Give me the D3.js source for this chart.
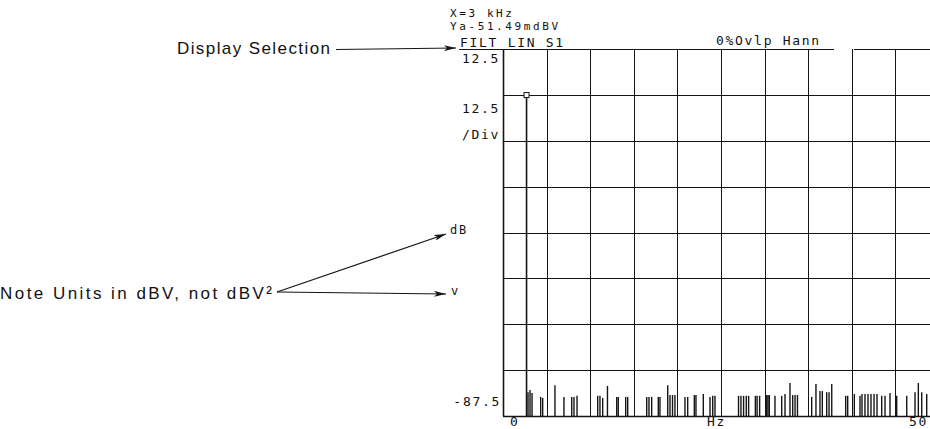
<!DOCTYPE html>
<html>
<head>
<meta charset="utf-8">
<script src="https://cdn.jsdelivr.net/npm/d3@7"></script>
<style>
  body { margin: 0; background: #fff; }
  svg { display: block; }
  .plot-text { font-family: "DejaVu Sans Mono", monospace; font-size: 13px; letter-spacing: 1.7px; fill: #111; }
  .note-text { font-family: "Liberation Sans", Arial, sans-serif; font-size: 17px; fill: #111; }
</style>
</head>
<body>
<div id="chart"></div>
<script>
// frequency axis (Hz) and level axis (dBV)
const freqDomain = [0, 50];
const levelDomain = [-87.5, 12.5];
const freqGrid = [0, 5, 10, 15, 20, 25, 30, 35, 40, 45, 50];
const levelGrid = [12.5, 0, -12.5, -25, -37.5, -50, -62.5, -75, -87.5];

// x axis labels: start, unit, stop
const xLabels = ["0", "Hz", "50"];
const yTopLabel = "12.5";
const yBottomLabel = "-87.5";
const scaleLabels = ["12.5", "/Div"];
const unitLabels = ["dB", "v"];

// header readouts
const markerLines = ["X=3 kHz", "Ya-51.49mdBV"];
const displayLabel = "FILT LIN S1";
const windowLabel = "0%Ovlp  Hann";

// main spectral line
const peakHz = 2.7;
const peakDb = -0.05;

// noise floor spikes
const noiseHz = [2.87, 3.10, 3.33, 4.32, 4.55, 5.96, 6.99, 7.88, 8.14, 8.49,
  10.86, 11.12, 11.43, 11.98, 13.04, 13.22, 14.07, 14.30, 16.48, 16.74,
  17.05, 17.81, 18.00, 18.89, 19.15, 19.44, 19.72, 20.87, 21.18, 21.94,
  22.13, 22.97, 23.74, 24.05, 24.31, 27.01, 27.29, 27.59, 27.90, 28.17,
  28.94, 29.14, 29.43, 30.24, 30.39, 30.54, 31.19, 31.96, 32.34, 32.91,
  33.22, 33.49, 33.77, 35.40, 35.89, 36.35, 36.62, 37.12, 37.39, 37.70,
  39.30, 39.53, 40.29, 40.94, 41.17, 41.51, 41.86, 42.20, 42.55, 42.89,
  43.43, 43.81, 44.38, 45.15, 46.30, 47.25, 47.63, 48.02, 48.59];
const noiseDb = [-81.0, -80.4, -81.2, -82.3, -82.6, -79.1, -82.3, -82.3, -82.3, -82.0,
  -82.0, -82.0, -82.6, -79.3, -82.3, -82.3, -82.3, -82.3, -82.3, -82.3,
  -82.3, -82.3, -82.3, -79.1, -81.8, -81.8, -81.8, -82.3, -82.3, -81.8,
  -81.8, -81.5, -82.3, -82.0, -82.0, -82.0, -82.0, -82.0, -82.0, -82.0,
  -82.0, -82.0, -82.0, -81.8, -81.8, -81.8, -82.0, -82.0, -81.5, -78.5,
  -81.8, -81.8, -81.8, -82.3, -78.8, -80.7, -80.7, -81.0, -81.0, -78.8,
  -82.0, -82.0, -81.5, -82.0, -81.5, -81.5, -81.5, -81.5, -81.5, -81.5,
  -82.0, -82.0, -81.2, -82.0, -82.0, -81.0, -78.5, -81.0, -81.5];

// annotations
const displayNote = "Display Selection";
const unitsNote = "Note Units in dBV, not dBV²";

const width = 930;
const height = 429;
const ink = "#151515";

const x = d3.scaleLinear().domain(freqDomain).range([503, 939]);
const y = d3.scaleLinear().domain(levelDomain).range([416, 49]);
const px = v => Math.round(v) + 0.5;

const svg = d3.select("#chart")
  .append("svg")
  .attr("width", width)
  .attr("height", height);

svg.append("defs").append("marker")
  .attr("id", "head")
  .attr("viewBox", "0 0 12 6")
  .attr("refX", 12)
  .attr("refY", 3)
  .attr("markerWidth", 12)
  .attr("markerHeight", 6)
  .attr("markerUnits", "userSpaceOnUse")
  .attr("orient", "auto")
  .append("path")
  .attr("d", "M0,0 L12,3 L0,6 L3,3 Z")
  .attr("fill", ink);

// grid
const grid = svg.append("g").attr("stroke", ink).attr("stroke-width", 1);

grid.selectAll("line.v")
  .data(freqGrid)
  .join("line")
  .attr("class", "v")
  .attr("x1", d => px(x(d)))
  .attr("x2", d => px(x(d)))
  .attr("y1", y(levelDomain[1]))
  .attr("y2", y(levelDomain[0]))
  .attr("stroke-width", (d, i) => i === 0 ? 1.6 : 1);

grid.selectAll("line.h")
  .data(levelGrid.slice(1, -1))
  .join("line")
  .attr("class", "h")
  .attr("x1", x(0))
  .attr("x2", width)
  .attr("y1", d => px(y(d)))
  .attr("y2", d => px(y(d)));

// top border runs under the header text, with a small break
grid.append("line")
  .attr("x1", 459).attr("x2", 834)
  .attr("y1", px(y(levelDomain[1]))).attr("y2", px(y(levelDomain[1])));
grid.append("line")
  .attr("x1", 854).attr("x2", width)
  .attr("y1", px(y(levelDomain[1]))).attr("y2", px(y(levelDomain[1])));

// bottom baseline
grid.append("line")
  .attr("x1", x(0)).attr("x2", width)
  .attr("y1", px(y(levelDomain[0]))).attr("y2", px(y(levelDomain[0])))
  .attr("stroke-width", 1.6);

// spectrum spikes
const spikes = noiseHz.map((f, i) => ({ f, db: noiseDb[i] }));
svg.append("g")
  .attr("stroke", ink)
  .attr("stroke-width", 1.4)
  .selectAll("line")
  .data(spikes)
  .join("line")
  .attr("x1", d => x(d.f))
  .attr("x2", d => x(d.f))
  .attr("y1", y(levelDomain[0]))
  .attr("y2", d => y(d.db));

svg.append("line")
  .attr("x1", x(peakHz)).attr("x2", x(peakHz))
  .attr("y1", y(levelDomain[0])).attr("y2", y(peakDb))
  .attr("stroke", ink)
  .attr("stroke-width", 1.6);

svg.append("rect")
  .attr("x", x(peakHz) - 2.5)
  .attr("y", y(peakDb) - 2.5)
  .attr("width", 5)
  .attr("height", 5)
  .attr("fill", "#fff")
  .attr("stroke", ink)
  .attr("stroke-width", 1);

// plotter text
const txt = svg.append("g").attr("class", "plot-text");

txt.selectAll("text.mk")
  .data(markerLines)
  .join("text")
  .attr("class", "mk")
  .attr("x", 450)
  .attr("y", (d, i) => 17 + i * 12.5)
  .style("font-size", "11px")
  .style("letter-spacing", "2.6px")
  .text(d => d);

txt.append("text").attr("x", 460).attr("y", 46.5).text(displayLabel);
txt.append("text").attr("x", 716).attr("y", 45).text(windowLabel);

txt.append("text")
  .attr("x", 500).attr("y", y(levelDomain[1]) + 14)
  .attr("text-anchor", "end").text(yTopLabel);
txt.append("text")
  .attr("x", 501).attr("y", y(levelDomain[0]) - 10)
  .attr("text-anchor", "end").text(yBottomLabel);

txt.selectAll("text.sc")
  .data(scaleLabels)
  .join("text")
  .attr("class", "sc")
  .attr("x", 500)
  .attr("y", (d, i) => 113 + i * 26)
  .attr("text-anchor", "end")
  .text(d => d);

txt.append("text").attr("x", 450).attr("y", 234).style("font-size", "12px").text(unitLabels[0]);
txt.append("text").attr("x", 451).attr("y", 295).style("font-size", "12px").text(unitLabels[1]);

txt.append("text").attr("x", 510).attr("y", 426).text(xLabels[0]);
txt.append("text").attr("x", (x(0) + width) / 2).attr("y", 426)
  .attr("text-anchor", "middle").text(xLabels[1]);
txt.append("text").attr("x", 909).attr("y", 426).text(xLabels[2]);

// annotations on the left
const notes = svg.append("g").attr("class", "note-text");
notes.append("text")
  .attr("x", 177).attr("y", 54)
  .attr("textLength", 153).attr("lengthAdjust", "spacing")
  .text(displayNote);
notes.append("text")
  .attr("x", 0).attr("y", 299)
  .attr("textLength", 272).attr("lengthAdjust", "spacing")
  .text(unitsNote);

const arrows = [
  [[336, 49.5], [456, 48]],
  [[277, 292], [446, 234]],
  [[277, 292], [446, 294]]
];
svg.append("g")
  .attr("stroke", ink)
  .attr("stroke-width", 1.2)
  .selectAll("line")
  .data(arrows)
  .join("line")
  .attr("x1", d => d[0][0]).attr("y1", d => d[0][1])
  .attr("x2", d => d[1][0]).attr("y2", d => d[1][1])
  .attr("marker-end", "url(#head)");
</script>
</body>
</html>
